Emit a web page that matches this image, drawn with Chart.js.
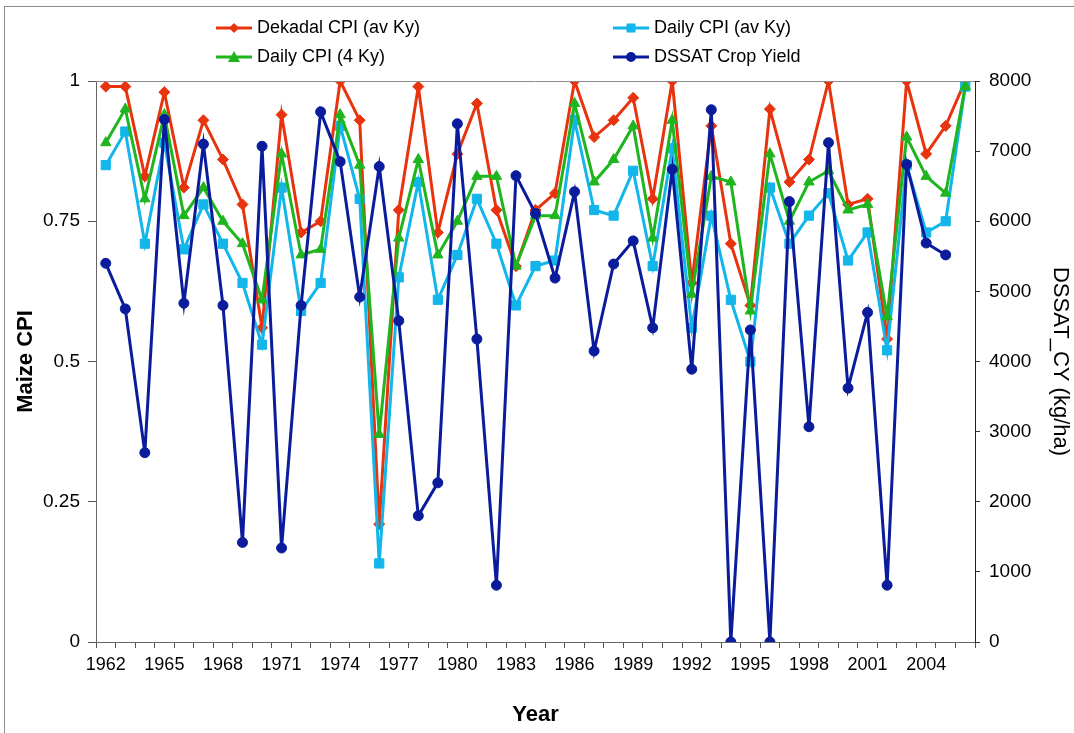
<!DOCTYPE html>
<html>
<head>
<meta charset="utf-8">
<script src="https://cdn.jsdelivr.net/npm/chart.js@4"></script>
<style>
  html, body { margin: 0; padding: 0; background: #fff; overflow: hidden; }
  #wrap { position: relative; width: 1074px; height: 733px; }
  #frame { position: absolute; left: 4px; top: 6px; width: 1200px; height: 900px; border: 1px solid #8c8c8c; pointer-events: none; }
  .legend { position: absolute; font-family: "Liberation Sans", Arial, sans-serif; font-size: 18px; color: #000; display: flex; align-items: center; white-space: nowrap; }
  .legend svg { margin-right: 5px; }
</style>
</head>
<body>
<div id="wrap">
  <canvas id="cpiChart" width="1074" height="733"></canvas>
  <div id="frame"></div>
  <div class="legend" style="left:216px; top:17px;">
    <svg width="36" height="14"><line x1="0" y1="7" x2="36" y2="7" stroke="#E8340E" stroke-width="3"/><polygon points="18,2 23,7 18,12 13,7" fill="#E8340E"/></svg>Dekadal CPI (av Ky)</div>
  <div class="legend" style="left:613px; top:17px;">
    <svg width="36" height="14"><line x1="0" y1="7" x2="36" y2="7" stroke="#12B6EA" stroke-width="3"/><rect x="13.5" y="2.5" width="9" height="9" fill="#12B6EA"/></svg>Daily CPI (av Ky)</div>
  <div class="legend" style="left:216px; top:46px;">
    <svg width="36" height="14"><line x1="0" y1="7" x2="36" y2="7" stroke="#1FB51F" stroke-width="3"/><polygon points="18,1 24,12 12,12" fill="#1FB51F"/></svg>Daily CPI (4 Ky)</div>
  <div class="legend" style="left:613px; top:46px;">
    <svg width="36" height="14"><line x1="0" y1="7" x2="36" y2="7" stroke="#0A1C9C" stroke-width="3"/><circle cx="18" cy="7" r="5" fill="#0A1C9C"/></svg>DSSAT Crop Yield</div>
</div>
<script>
// categories
const years = ['1962','1963','1964','1965','1966','1967','1968','1969','1970','1971',
  '1972','1973','1974','1975','1976','1977','1978','1979','1980','1981',
  '1982','1983','1984','1985','1986','1987','1988','1989','1990','1991',
  '1992','1993','1994','1995','1996','1997','1998','1999','2000','2001',
  '2002','2003','2004','2005','2006'];

// Maize CPI series (left axis)
const dekadalAvKy = [0.99, 0.99, 0.83, 0.98, 0.81, 0.93, 0.86, 0.78, 0.56, 0.94,
  0.73, 0.75, 1.00, 0.93, 0.21, 0.77, 0.99, 0.73, 0.87, 0.96,
  0.77, 0.67, 0.77, 0.80, 1.00, 0.90, 0.93, 0.97, 0.79, 1.00,
  0.64, 0.92, 0.71, 0.60, 0.95, 0.82, 0.86, 1.00, 0.78, 0.79,
  0.54, 1.00, 0.87, 0.92, 1.00];

const dailyAvKy = [0.85, 0.91, 0.71, 0.89, 0.70, 0.78, 0.71, 0.64, 0.53, 0.81,
  0.59, 0.64, 0.92, 0.79, 0.14, 0.65, 0.82, 0.61, 0.69, 0.79,
  0.71, 0.60, 0.67, 0.68, 0.93, 0.77, 0.76, 0.84, 0.67, 0.88,
  0.56, 0.76, 0.61, 0.50, 0.81, 0.71, 0.76, 0.80, 0.68, 0.73,
  0.52, 0.85, 0.73, 0.75, 0.99];

const daily4Ky = [0.89, 0.95, 0.79, 0.94, 0.76, 0.81, 0.75, 0.71, 0.61, 0.87,
  0.69, 0.70, 0.94, 0.85, 0.37, 0.72, 0.86, 0.69, 0.75, 0.83,
  0.83, 0.67, 0.76, 0.76, 0.96, 0.82, 0.86, 0.92, 0.72, 0.93,
  0.62, 0.83, 0.82, 0.59, 0.87, 0.75, 0.82, 0.84, 0.77, 0.78,
  0.58, 0.90, 0.83, 0.80, 0.99];

// DSSAT crop yield, kg/ha (right axis)
const dssatYield = [5400, 4750, 2700, 7450, 4830, 7100, 4800, 1420, 7070, 1340,
  4800, 7560, 6850, 4920, 6780, 4580, 1800, 2270, 7390, 4320,
  810, 6650, 6110, 5190, 6420, 4150, 5390, 5720, 4480, 6740,
  3890, 7590, 0, 4450, 0, 6280, 3070, 7120, 3620, 4700,
  810, 6810, 5690, 5520, null];

const cpiTicks = [0, 0.25, 0.5, 0.75, 1];

const FONT = '"Liberation Sans", Arial, sans-serif';

// grey line along the top of the plot area
const plotTopLine = {
  id: 'plotTopLine',
  afterDraw(chart) {
    const { ctx, chartArea } = chart;
    ctx.save();
    ctx.strokeStyle = '#8c8c8c';
    ctx.lineWidth = 1;
    ctx.beginPath();
    ctx.moveTo(chartArea.left, chartArea.top + 0.5);
    ctx.lineTo(chartArea.right, chartArea.top + 0.5);
    ctx.stroke();
    ctx.restore();
  }
};

function series(label, data, color, style, radius, axis, order) {
  return {
    label, data, yAxisID: axis, order,
    borderColor: color, backgroundColor: color,
    borderWidth: 3, tension: 0,
    pointStyle: style, pointRadius: radius, pointHoverRadius: radius,
    pointBackgroundColor: color, pointBorderColor: color, pointBorderWidth: 1
  };
}

new Chart(document.getElementById('cpiChart'), {
  type: 'line',
  data: {
    labels: years,
    datasets: [
      series('Dekadal CPI (av Ky)', dekadalAvKy, '#E8340E', 'rectRot', 5.5, 'y', 4),
      series('Daily CPI (av Ky)', dailyAvKy, '#12B6EA', 'rect', 6.5, 'y', 3),
      series('Daily CPI (4 Ky)', daily4Ky, '#1FB51F', 'triangle', 6, 'y', 2),
      series('DSSAT Crop Yield', dssatYield, '#0A1C9C', 'circle', 5, 'y1', 1)
    ]
  },
  options: {
    responsive: false,
    animation: false,
    layout: { padding: { top: 81, left: 0, right: 0, bottom: 0 } },
    plugins: { legend: { display: false }, tooltip: { enabled: false } },
    scales: {
      x: {
        offset: true,
        afterFit: (s) => { s.height = 91; },
        grid: { offset: true, drawOnChartArea: false, drawTicks: true, tickLength: 6, color: '#555' },
        border: { display: true, color: '#666', width: 1 },
        ticks: {
          autoSkip: false, maxRotation: 0, padding: 6, color: '#000',
          font: { family: FONT, size: 18 },
          callback: (v, i) => (i % 3 === 0 ? years[i] : '')
        },
        title: { display: true, text: 'Year', color: '#000', font: { family: FONT, size: 22, weight: 'bold' }, padding: { top: 0, bottom: 5 } }
      },
      y: {
        position: 'left',
        min: 0, max: 1,
        afterFit: (s) => { s.width = 96; },
        afterBuildTicks: (s) => { s.ticks = cpiTicks.map(v => ({ value: v })); },
        grid: { drawOnChartArea: false, drawTicks: true, tickLength: 8, color: '#555' },
        border: { display: true, color: '#666', width: 1 },
        ticks: { color: '#000', padding: 8, font: { family: FONT, size: 19 }, callback: (v) => String(v) },
        title: { display: true, text: 'Maize CPI', color: '#000', font: { family: FONT, size: 22, weight: 'bold' }, padding: { top: 13, bottom: 0 } }
      },
      y1: {
        position: 'right',
        min: 0, max: 8000,
        afterFit: (s) => { s.width = 99; },
        grid: { drawOnChartArea: false, drawTicks: true, tickLength: 5, color: '#333' },
        border: { display: true, color: '#222', width: 1 },
        ticks: { stepSize: 1000, color: '#000', padding: 9, font: { family: FONT, size: 19 }, callback: (v) => String(v) },
        title: { display: true, text: 'DSSAT_CY (kg/ha)', color: '#000', font: { family: FONT, size: 22 }, padding: { top: 1, bottom: 0 } }
      }
    }
  },
  plugins: [plotTopLine]
});
</script>
</body>
</html>
